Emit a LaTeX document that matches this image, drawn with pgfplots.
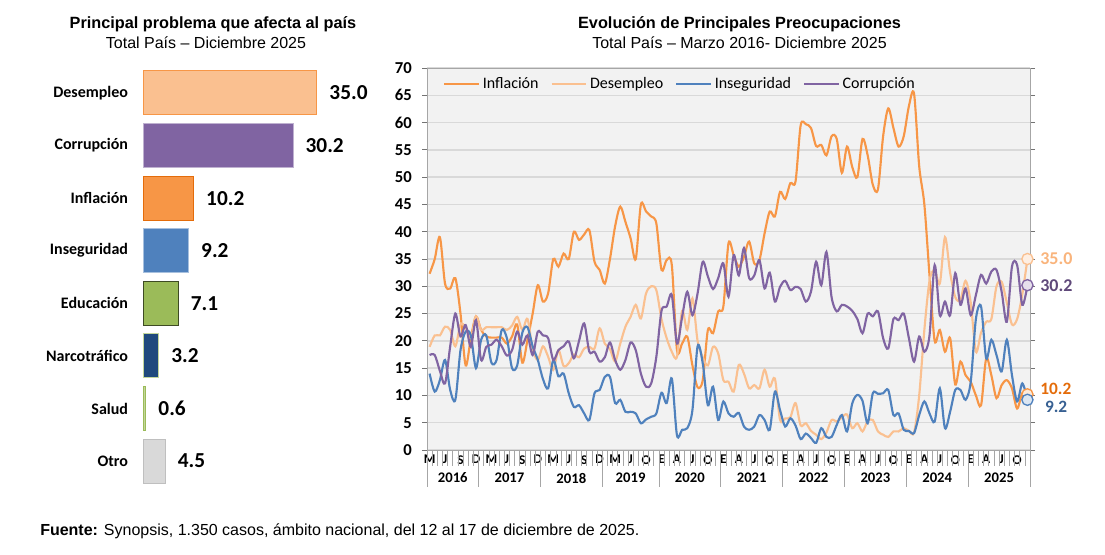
\documentclass[border=0pt]{standalone}
\usepackage{pgfplots}
\pgfplotsset{compat=1.18}
\usepackage{pgfplotstable}
\usepackage{fontspec}
\setmainfont{Liberation Sans}
\newfontfamily\calibri{Carlito}

\definecolor{cInf}{HTML}{F79646}
\definecolor{cDes}{HTML}{FAC090}
\definecolor{cIns}{HTML}{4F81BD}
\definecolor{cCor}{HTML}{8064A2}
\definecolor{cEdu}{HTML}{9BBB59}
\definecolor{cNar}{HTML}{1F497D}
\definecolor{cSal}{HTML}{C3D69B}
\definecolor{cOtr}{HTML}{D9D9D9}
\definecolor{plotbg}{HTML}{F2F2F2}
\definecolor{gridc}{HTML}{D9D9D9}
\definecolor{framec}{HTML}{A6A6A6}
\definecolor{lDes}{HTML}{F9B47C}
\definecolor{lCor}{HTML}{5F497A}
\definecolor{lInf}{HTML}{E46C0A}
\definecolor{lIns}{HTML}{376092}

% monthly series, Mar 2016 (m=0) .. Dec 2025 (m=116)
\pgfplotstableread{
m infl desem inseg corr
0 32.3 18.9 14 17.4
1 35 21 10.7 17.4
2 39 21 12.8 14.5
3 30.5 22.6 16.5 12.2
4 29.6 22 11 19
5 31.5 19 9.2 25
6 25 23 18.3 20.8
7 15.5 22.5 21.7 22.9
8 20.5 20.5 21 18.9
9 24.5 24.5 15 23.8
10 22 22 20.2 16.5
11 20.8 22.5 21 18.9
12 20.6 22.5 16 19.3
13 20.6 22.5 16.5 20.2
14 20.6 22.5 22 19
15 19.5 22 20.5 17.3
16 20.8 22.8 15 18.3
17 23 24.4 15.5 21.7
18 16 22 21.5 19.3
19 20.2 24 22.5 21
20 25 18.5 19 17.4
21 30.2 16.5 16.5 21.7
22 27.2 19 13 21
23 28.7 17.1 11.3 20.5
24 35 14.7 16.5 16.5
25 33.6 18.3 13.5 18.3
26 36 15.4 14 19
27 35 15.9 10.4 19.9
28 40 17.5 7.9 16.8
29 38.5 17 8.2 20
30 39.5 18.6 6.7 23.2
31 40.3 18.9 5.5 18
32 34.5 18.6 10.4 18
33 33 22.3 11 16.2
34 30.5 19.5 13.4 17
35 35 18.5 13.4 19.7
36 41 16.2 8.6 16.5
37 44.6 19.5 9.2 14.7
38 41.8 22.6 7 16.5
39 38.8 24.4 7 19.7
40 35 26.6 6.7 18.3
41 45 24.1 4.9 14
42 43.7 28.7 5.6 11.6
43 42.8 30 6.1 12.2
44 41.5 29.3 6.7 17.1
45 33 24 10.5 25.5
46 34.8 20.5 8.6 26.3
47 33.9 18 13.1 28.4
48 18.3 17.1 2.7 19.5
49 19.5 25.5 3.7 24.4
50 20.8 22 4 29
51 15.5 27.8 7.3 24.7
52 11.5 20 19 28.7
53 12.8 17 15.9 34.5
54 22 15.5 8.2 31.8
55 21.4 18.9 11.6 29.5
56 25.4 17.7 5.5 31.5
57 26.3 12.8 8.9 34.2
58 37.9 12.5 6.7 28.1
59 35.7 10.7 6.1 35.7
60 33.6 15.6 6.8 32
61 35.4 14 4.3 37
62 38.2 11.3 3.7 31.5
63 34.2 11.9 4.3 32
64 34.8 11.3 6.4 34.8
65 39.7 14.7 5.5 29.6
66 43.7 11.6 3.7 32.5
67 42.8 13.1 10.7 27.2
68 47.3 5.5 7.3 29.9
69 46 5.8 4.3 31
70 48.9 6 5.8 29.3
71 49.2 8.6 4.5 29.9
72 59.5 4.5 2 29.5
73 59.7 4.9 3 27.2
74 59 3.5 2.2 29
75 55.7 2.8 1.3 34.5
76 55.9 2 4 30.2
77 54 3.2 2.4 36.3
78 57.5 5.5 2.4 28
79 57 5.2 4.6 25.4
80 50.8 6 6.4 26.6
81 55.6 6.5 3.4 26.3
82 51.9 4 8.5 25.5
83 50 4.9 10.1 24
84 57 3.4 9 21.4
85 54 5.3 4.9 25
86 48.6 5.5 10.4 24.5
87 47.8 3.4 10.3 25.4
88 57.5 2.8 10.4 20.5
89 62.6 2.4 11 18.6
90 59 3.4 6.4 24
91 55.6 3.4 6.7 23.8
92 57.5 4 3.7 25
93 63 3.5 3.5 20.5
94 65.3 3.2 3.1 16.2
95 52 10 6.4 20.8
96 45 22 8.9 18
97 32 31 6.7 21
98 20 33 5.2 33.9
99 22 30.5 11.3 24.7
100 18 39 4 27.2
101 20.5 32.5 7 24.7
102 12 28 11 32.4
103 16.2 27.5 11 26.6
104 13.7 31 9.2 29.6
105 12.5 27 12.5 24.7
106 10 18 24 28.4
107 8.2 21.5 26.3 32.1
108 16.8 23.5 16.8 30.5
109 13.7 24 20.2 32.7
110 9.5 30 17.4 33
111 11.9 30.8 14.4 29
112 12.8 27 20.2 23.5
113 11.3 23 13.7 33.6
114 7.6 24 8.9 33.9
115 10.4 28.5 12.2 26.6
116 10.2 35 9.2 30.2
}\serie

\begin{document}
\begin{tikzpicture}
\path[use as bounding box] (0pt,0pt) rectangle (828.75pt,-416.25pt);

\begin{scope}[x=0.75pt,y=-0.75pt]
  \node[anchor=base,inner sep=0pt,font=\bfseries\fontsize{12.2}{14}\selectfont] at (213,29) {Principal problema que afecta al país};
  \node[anchor=base,inner sep=0pt,font=\fontsize{12}{14}\selectfont] at (206,49) {Total País – Diciembre 2025};
  \node[anchor=base,inner sep=0pt,font=\bfseries\fontsize{12.2}{14}\selectfont] at (739.5,29) {Evolución de Principales Preocupaciones};
  \node[anchor=base,inner sep=0pt,font=\fontsize{12}{14}\selectfont] at (739.5,49) {Total País – Marzo 2016- Diciembre 2025};
  \node[anchor=base west,inner sep=0pt,font=\fontsize{12}{14}\selectfont] at (40,535) {\textbf{Fuente:} Synopsis, 1.350 casos, ámbito nacional, del 12 al 17 de diciembre de 2025.};
\end{scope}

% ---- left: bars
\begin{axis}[
  at={(107.25pt,-365.5pt)}, anchor=south west,
  scale only axis, width=130.5pt, height=315.5pt,
  xmin=0, xmax=35, ymin=-0.5, ymax=7.5, y dir=reverse,
  clip=false,
  axis line style={draw=none},
  tick style={draw=none},
  xtick=\empty,
  ytick={0,...,7},
  yticklabels={Desempleo,Corrupción,Inflación,Inseguridad,Educación,Narcotráfico,Salud,Otro},
  yticklabel style={font=\calibri\bfseries\fontsize{12}{14}\selectfont, anchor=east, inner sep=0pt, xshift=-6.75pt},
  xbar, bar width=0.837, bar shift=0pt,
  point meta=x,
  /pgf/number format/assume math mode=true,
  nodes near coords={\pgfmathprintnumber[fixed,fixed zerofill,precision=1]{\pgfplotspointmeta}},
  every node near coord/.append style={font=\calibri\bfseries\fontsize{16}{18}\selectfont, text=black, anchor=west, inner sep=0pt, xshift=9pt},
]
\addplot[fill=cDes, draw=cInf, line width=0.75pt] coordinates {(35.0,0)};
\addplot[fill=cCor, draw=cCor!50!white, line width=0.75pt] coordinates {(30.2,1)};
\addplot[fill=cInf, draw=lInf, line width=0.75pt] coordinates {(10.2,2)};
\addplot[fill=cIns, draw=cIns!50!white, line width=0.75pt] coordinates {(9.2,3)};
\addplot[fill=cEdu, draw=cEdu!40!black, line width=0.75pt] coordinates {(7.1,4)};
\addplot[fill=cNar, draw=cSal, line width=0.75pt] coordinates {(3.2,5)};
\addplot[fill=cSal, draw=cEdu, line width=0.75pt] coordinates {(0.6,6)};
\addplot[fill=cOtr, draw=black!25, line width=0.75pt] coordinates {(4.5,7)};
\end{axis}

% ---- right: lines
\begin{axis}[
  at={(320.25pt,-337.5pt)}, anchor=south west,
  scale only axis, width=452.25pt, height=286.5pt,
  xmin=-0.5, xmax=116.5, ymin=0, ymax=70,
  clip=false,
  axis background/.style={fill=plotbg},
  axis line style={draw=framec, line width=0.75pt},
  /pgf/number format/assume math mode=true,
  ytick={0,5,...,70},
  yticklabel style={font=\calibri\bfseries\fontsize{12.5}{14}\selectfont, inner sep=0pt, xshift=-7.5pt},
  ymajorgrids,
  major grid style={draw=gridc, line width=1pt},
  tick align=outside,
  major tick length=3.75pt,
  ytick style={draw=black!55, line width=0.75pt},
  xtick style={draw=none},
  xtick={0,3,6,9,12,15,18,21,24,27,30,33,36,39,42,45,48,51,54,57,60,63,66,69,72,75,78,81,84,87,90,93,96,99,102,105,108,111,114},
  xticklabels={M,J,S,D,M,J,S,D,M,J,S,D,M,J,O,E,A,J,O,E,A,J,O,E,A,J,O,E,A,J,O,E,A,J,O,E,A,J,O},
  xticklabel style={font=\calibri\bfseries\fontsize{10}{11}\selectfont, inner sep=0pt, anchor=north},
  legend columns=4,
  legend style={at={(0.02,0.99)}, anchor=north west, draw=none, fill=none,
    font=\calibri\fontsize{12}{14}\selectfont,
    /tikz/every even column/.append style={column sep=7pt}},
  legend image code/.code={\draw[#1] (0pt,0pt) -- (26pt,0pt);},
]
\pgfplotsinvokeforeach{0.5,1.5,...,115.5}{
  \draw[framec, line width=0.5pt] (axis cs:#1,0) -- ++(0pt,-12pt);
}
\pgfplotsinvokeforeach{-0.5,9.5,21.5,33.5,44.5,56.5,68.5,80.5,92.5,104.5,116.5}{
  \draw[framec, line width=0.6pt] (axis cs:#1,0) -- ++(0pt,-27.75pt);
}
\node[font=\calibri\bfseries\fontsize{11}{12}\selectfont, yshift=-21pt] at (axis cs:4.5,0) {2016};
\node[font=\calibri\bfseries\fontsize{11}{12}\selectfont, yshift=-21pt] at (axis cs:15.5,0) {2017};
\node[font=\calibri\bfseries\fontsize{11}{12}\selectfont, yshift=-21pt] at (axis cs:27.5,0) {2018};
\node[font=\calibri\bfseries\fontsize{11}{12}\selectfont, yshift=-21pt] at (axis cs:39,0) {2019};
\node[font=\calibri\bfseries\fontsize{11}{12}\selectfont, yshift=-21pt] at (axis cs:50.5,0) {2020};
\node[font=\calibri\bfseries\fontsize{11}{12}\selectfont, yshift=-21pt] at (axis cs:62.5,0) {2021};
\node[font=\calibri\bfseries\fontsize{11}{12}\selectfont, yshift=-21pt] at (axis cs:74.5,0) {2022};
\node[font=\calibri\bfseries\fontsize{11}{12}\selectfont, yshift=-21pt] at (axis cs:86.5,0) {2023};
\node[font=\calibri\bfseries\fontsize{11}{12}\selectfont, yshift=-21pt] at (axis cs:98.5,0) {2024};
\node[font=\calibri\bfseries\fontsize{11}{12}\selectfont, yshift=-21pt] at (axis cs:110.5,0) {2025};

\addplot[cInf, line width=1.6pt, smooth, tension=0.5, no marks] table[x=m,y=infl]{\serie};
\addlegendentry{Inflación}
\addplot[cDes, line width=1.6pt, smooth, tension=0.5, no marks] table[x=m,y=desem]{\serie};
\addlegendentry{Desempleo}
\addplot[cIns, line width=1.6pt, smooth, tension=0.5, no marks] table[x=m,y=inseg]{\serie};
\addlegendentry{Inseguridad}
\addplot[cCor, line width=1.6pt, smooth, tension=0.5, no marks] table[x=m,y=corr]{\serie};
\addlegendentry{Corrupción}

\addplot[forget plot, only marks, mark=*, mark size=4.2pt, mark options={draw=cDes, fill=cDes!25, line width=1pt}] coordinates {(116,35.0)};
\addplot[forget plot, only marks, mark=*, mark size=4.2pt, mark options={draw=cCor, fill=cCor!20, line width=1pt}] coordinates {(116,30.2)};
\addplot[forget plot, only marks, mark=*, mark size=4.2pt, mark options={draw=cInf, fill=cInf!20, line width=1pt}] coordinates {(116,10.2)};
\addplot[forget plot, only marks, mark=*, mark size=4.2pt, mark options={draw=cIns, fill=cIns!20, line width=1pt}] coordinates {(116,9.2)};

\node[anchor=west, inner sep=0pt, text=lDes, font=\calibri\bfseries\fontsize{13.5}{14}\selectfont, xshift=9.5pt] at (axis cs:116,35.0) {35.0};
\node[anchor=west, inner sep=0pt, text=lCor, font=\calibri\bfseries\fontsize{13.5}{14}\selectfont, xshift=9.5pt] at (axis cs:116,30.2) {30.2};
\node[anchor=west, inner sep=0pt, text=lInf, font=\calibri\bfseries\fontsize{13}{14}\selectfont, xshift=9.5pt, yshift=4pt] at (axis cs:116,10.2) {10.2};
\node[anchor=west, inner sep=0pt, text=lIns, font=\calibri\bfseries\fontsize{13}{14}\selectfont, xshift=13pt, yshift=-5.5pt] at (axis cs:116,9.2) {9.2};
\end{axis}
\end{tikzpicture}
\end{document}
